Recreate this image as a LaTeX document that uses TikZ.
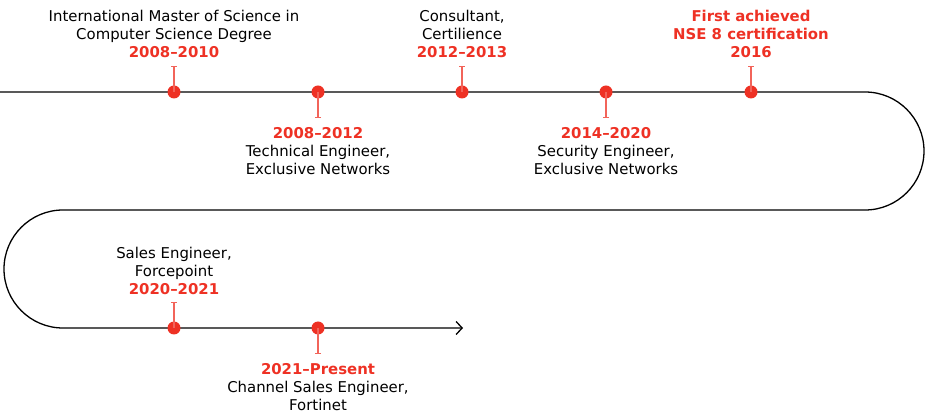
\documentclass[tikz,border=0pt]{standalone}
\usepackage{fontspec}
\setmainfont{DejaVu Sans}
\usetikzlibrary{arrows.meta}
\definecolor{fred}{RGB}{238,49,36}
\definecolor{fstem}{RGB}{242,100,90}
\begin{document}
\begin{tikzpicture}[x=1pt,y=-1pt,
  dot/.style={circle,fill=fred,inner sep=0pt,minimum size=13pt},
  lbl/.style={align=center,inner sep=0pt,font=\fontsize{14.9}{18}\selectfont},
  stem/.style={draw=fstem,line width=1.2pt,{Bar[width=6pt,line width=1.2pt]}-}]
\useasboundingbox (0,0) rectangle (927,419);
\newcommand{\yrs}[1]{\textcolor{fred}{\bfseries #1}}
% timeline
\draw[line width=1.3pt,-{Straight Barb[length=6pt,width=13pt,line width=1.3pt]}]
  (0,92) -- (865,92) arc[start angle=-90,end angle=90,radius=59] -- (63,210)
  arc[start angle=-90,end angle=-270,radius=59] -- (463,328);
% dots
\node[dot] (d1) at (174,92) {};
\node[dot] (d2) at (318,92) {};
\node[dot] (d3) at (462,92) {};
\node[dot] (d4) at (606,92) {};
\node[dot] (d5) at (751,92) {};
\node[dot] (d6) at (174,328) {};
\node[dot] (d7) at (318,328) {};
% stem ends
\coordinate (s1) at (174,66);
\coordinate (s2) at (318,118);
\coordinate (s3) at (462,66);
\coordinate (s4) at (606,118);
\coordinate (s5) at (751,66);
\coordinate (s6) at (174,302);
\coordinate (s7) at (318,354);
\foreach \i in {1,...,7}{\draw[stem] (s\i) -- (d\i.center);}
% labels
\node[lbl,anchor=south] (l1) at (174,58) {International Master of Science in\\Computer Science Degree\\\yrs{2008–2010}};
\node[lbl,anchor=north] (l2) at (318,127) {\yrs{2008–2012}\\Technical Engineer,\\Exclusive Networks};
\node[lbl,anchor=south] (l3) at (462,58) {Consultant,\\Certilience\\\yrs{2012–2013}};
\node[lbl,anchor=north] (l4) at (606,127) {\yrs{2014–2020}\\Security Engineer,\\Exclusive Networks};
\node[lbl,anchor=south] (l5) at (751,58) {\yrs{First achieved}\\\yrs{NSE 8 certification}\\\yrs{2016}};
\node[lbl,anchor=south] (l6) at (174,295) {Sales Engineer,\\Forcepoint\\\yrs{2020–2021}};
\node[lbl,anchor=north] (l7) at (318,363) {\yrs{2021–Present}\\Channel Sales Engineer,\\Fortinet};
\end{tikzpicture}
\end{document}
